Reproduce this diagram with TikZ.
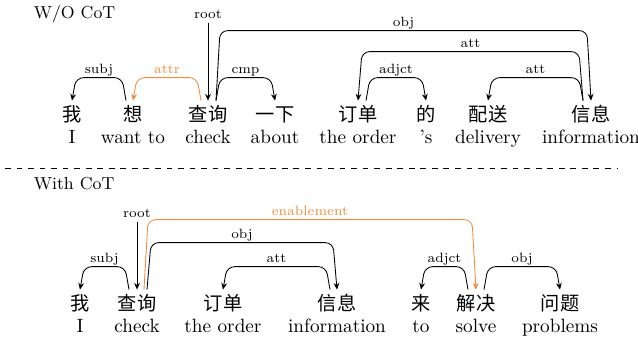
\documentclass[tikz,border=0pt]{standalone}
\usepackage{fontspec}
\newfontfamily\cjk{Noto Sans CJK SC}
\usepackage{tikz}
\usetikzlibrary{arrows.meta,calc}
\definecolor{cotorange}{RGB}{242,140,60}
\tikzset{
  word/.style={anchor=base,inner sep=1pt,font=\cjk,text height=9.4pt},
  gloss/.style={anchor=base,inner sep=1pt},
  lab/.style={font=\scriptsize,inner sep=1pt,text height=1.5ex,text depth=.25ex,anchor=south},
  dep/.style={line width=0.45pt,rounded corners=4pt,-{Stealth[length=3.5pt,width=3pt]}}
}
\begin{document}
\begin{tikzpicture}[x=0.52pt,y=-0.52pt]
\useasboundingbox (0,0) rectangle (638,341);
%
\node[anchor=base west,font=\small] (t1) at (27,18) {W/O CoT};
\node (1) [word] at (72,121) {我};
\node (2) [word] at (133,121) {想};
\node (3) [word] at (208,121) {查询};
\node (4) [word] at (275,121) {一下};
\node (5) [word] at (358,121) {订单};
\node (6) [word] at (426,121) {的};
\node (7) [word] at (488,121) {配送};
\node (8) [word] at (591,121) {信息};
%
\node (01) [gloss] at (72,143) {I};
\node (02) [gloss] at (133,143) {want to};
\node (03) [gloss] at (208,143) {check};
\node (04) [gloss] at (275,143) {about};
\node (05) [gloss] at (358,143) {the order};
\node (06) [gloss] at (426,143) {'s};
\node (07) [gloss] at (488,143) {delivery};
\node (08) [gloss] at (591,143) {information};
%
\node (r1) [lab,anchor=center] at (208,13) {root};
\draw[dep] (r1.south) -- (3.north);
\foreach \Source/\Sx/\Target/\D/\H/\Lab in {%
	2/-7/1/-4/23/subj,
	3/8/4/4/23/cmp,
	3/8/8/4/70/obj,
	8/-8/5/-4/49/att,
	5/8/6/4/23/adjct,
	8/-8/7/-4/23/att%
    }
\draw[dep] ($(\Source.north)+(\Sx,0)$) -- ($(\Source.north)+({\Sx+\D},-\H)$)
  -- node[lab] {\Lab} ($(\Target.north)+({-(\D)},-\H)$) -- (\Target.north);
\draw[dep,cotorange] ($(3.north)+(-7,0)$) -- ($(3.north)+(-11,-23)$)
  -- node[lab] {attr} ($(2.north)+(4,-23)$) -- (2.north);
%
\draw[dashed] (5,168) to (617,168);
%
\node[anchor=base west,font=\small] (t2) at (27,189) {With CoT};
\node (21) [word] at (80,310) {我};
\node (22) [word] at (137,310) {查询};
\node (23) [word] at (223,310) {订单};
\node (24) [word] at (337,310) {信息};
\node (25) [word] at (421,310) {来};
\node (26) [word] at (476,310) {解决};
\node (27) [word] at (560,310) {问题};
%
\node (021) [gloss] at (80,332) {I};
\node (022) [gloss] at (137,332) {check};
\node (023) [gloss] at (223,332) {the order};
\node (024) [gloss] at (337,332) {information};
\node (025) [gloss] at (421,332) {to};
\node (026) [gloss] at (476,332) {solve};
\node (027) [gloss] at (560,332) {problems};
%
\node (r2) [lab,anchor=center] at (137,212) {root};
\draw[dep] (r2.south) -- (22.north);
\foreach \Source/\Sx/\Target/\D/\H/\Lab in {%
	22/-8/21/-4/23/subj,
	22/10/24/4/47/obj,
	24/-7/23/-4/23/att,
	26/-8/25/-4/23/adjct,
	26/8/27/4/23/obj%
    }
\draw[dep] ($(\Source.north)+(\Sx,0)$) -- ($(\Source.north)+({\Sx+\D},-\H)$)
  -- node[lab] {\Lab} ($(\Target.north)+({-(\D)},-\H)$) -- (\Target.north);
\draw[dep,cotorange] ($(22.north)+(7,0)$) -- ($(22.north)+(11,-70)$)
  -- node[lab] {enablement} ($(26.north)+(-4,-70)$) -- (26.north);
\end{tikzpicture}
\end{document}
